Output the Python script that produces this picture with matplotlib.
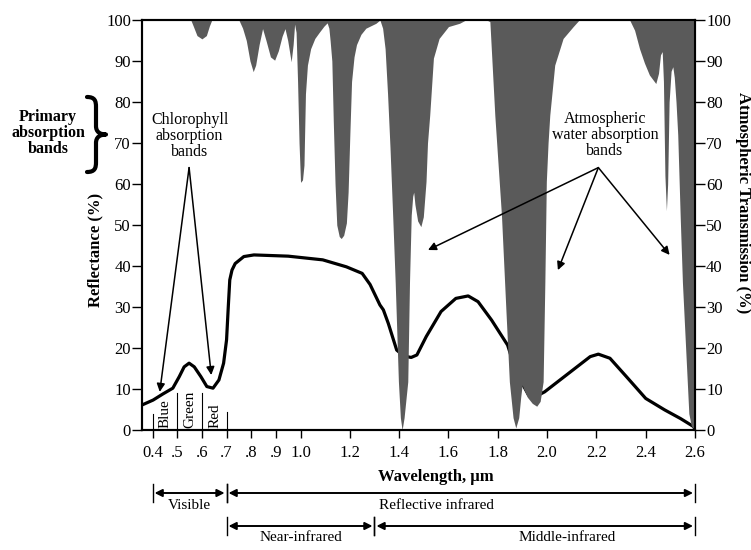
#!/usr/bin/env python
# -*- coding: utf-8 -*-

"""Spectral reflectance of green vegetation with the atmospheric
transmission (water absorption bands) drawn on top.
"""
import numpy
import matplotlib
import matplotlib.pyplot
import matplotlib.transforms
import matplotlib.path
import matplotlib.patches

matplotlib.use("Agg")
matplotlib.rcParams["font.family"] = ["Liberation Serif", "DejaVu Serif"]

# ----Data---------------------------------------------------------------------
# reflectance of the leaf, (wavelength in um, reflectance in %)
refl_wl = [0.357, 0.402, 0.442, 0.482, 0.508, 0.528, 0.548, 0.569, 0.596,
           0.62, 0.645, 0.669, 0.688, 0.70, 0.707, 0.713, 0.722, 0.735,
           0.77, 0.811, 0.95, 1.09, 1.186, 1.25, 1.282, 1.322, 1.336, 1.356,
           1.39, 1.42, 1.449, 1.472, 1.51, 1.57, 1.63, 1.68, 1.72, 1.775,
           1.84, 1.87, 1.906, 1.925, 1.958, 1.99, 2.104, 2.175, 2.208,
           2.255, 2.322, 2.40, 2.477, 2.541, 2.595, 2.60]
refl_pct = [6.1, 7.3, 8.8, 10.2, 13.0, 15.4, 16.3, 15.4, 13.0,
            10.6, 10.2, 12.2, 16.3, 22.0, 30.1, 36.6, 39.0, 40.6,
            42.3, 42.7, 42.4, 41.5, 39.8, 38.2, 35.5, 30.5, 29.3, 26.0,
            19.5, 18.0, 17.7, 18.3, 22.8, 28.9, 32.1, 32.7, 31.3, 26.8,
            20.7, 15.0, 10.6, 8.5, 8.3, 9.3, 14.6, 17.9, 18.5,
            17.5, 13.0, 7.7, 4.9, 2.8, 0.8, 0.0]

# atmospheric transmission, (wavelength in um, transmission in %)
trans_wl = [0.357, 0.555, 0.565, 0.58, 0.60, 0.618, 0.63, 0.64,
            0.75, 0.765, 0.78, 0.795, 0.808, 0.818, 0.832, 0.846, 0.86,
            0.878, 0.895, 0.91, 0.925, 0.937, 0.948, 0.962, 0.97, 0.976,
            0.982, 0.988, 0.994, 1.0, 1.008, 1.014, 1.02, 1.028, 1.041,
            1.058, 1.076, 1.095, 1.108, 1.115, 1.12, 1.127, 1.133, 1.14,
            1.147, 1.157, 1.165, 1.175, 1.186, 1.193, 1.2, 1.207, 1.217,
            1.227, 1.245, 1.265, 1.306, 1.322, 1.333, 1.343, 1.353, 1.363,
            1.374, 1.384, 1.397, 1.405, 1.412, 1.42, 1.435, 1.442, 1.449,
            1.455, 1.459, 1.464, 1.475, 1.488, 1.498, 1.509, 1.515, 1.524,
            1.539, 1.562, 1.60, 1.645, 1.67, 1.755, 1.768, 1.788, 1.815,
            1.834, 1.847, 1.862, 1.873, 1.885, 1.893, 1.899, 1.905, 1.92,
            1.94, 1.958, 1.972, 1.984, 1.991, 1.997, 2.004, 2.011, 2.031,
            2.065, 2.106, 2.13, 2.335, 2.355, 2.375, 2.395, 2.415, 2.441,
            2.452, 2.46, 2.467, 2.472, 2.478, 2.484, 2.489, 2.495, 2.503,
            2.51, 2.516, 2.523, 2.53, 2.54, 2.549, 2.562, 2.575, 2.585, 2.60]
trans_pct = [100, 100, 98.5, 96.2, 95.4, 96.2, 98.5, 100,
             100, 98, 95, 90, 87.4, 89, 94, 97.9, 95,
             91, 90.2, 92.5, 96, 97.9, 95, 89.8, 94, 99,
             97, 85, 70, 60.4, 61, 64.6, 82, 89, 93,
             95.5, 97, 98.5, 99.3, 98, 95, 90, 75, 60,
             50, 47.2, 46.7, 47.5, 50.5, 58, 72, 85, 91,
             94, 96.5, 98, 99.2, 100, 98, 93, 82, 68.8,
             52, 36, 11.8, 3, 0, 3, 11.8, 36, 52.4,
             57, 58, 55, 51, 49.6, 52, 60.6, 70, 76.8,
             90.7, 95.5, 98.4, 99.2, 100, 100, 99.6, 76.8, 52.4,
             28, 11.8, 3, 0.5, 3, 8, 11, 10, 8,
             6.5, 5.8, 7, 11.8, 36, 60.6, 70, 76.8, 89,
             95.5, 98.4, 100, 100, 97.5, 93, 89.5, 86.6, 84.5,
             87, 91.5, 92.3, 85, 62, 53.5, 60, 80, 87.5,
             88.6, 86, 80, 72, 52, 36, 20, 4, 1, 0]

xticks = [0.4, 0.5, 0.6, 0.7, 0.8, 0.9, 1.0, 1.2, 1.4, 1.6, 1.8, 2.0,
          2.2, 2.4, 2.6]
xticklabels = ["0.4", ".5", ".6", ".7", ".8", ".9", "1.0", "1.2", "1.4",
               "1.6", "1.8", "2.0", "2.2", "2.4", "2.6"]
yticks = list(range(0, 101, 10))

# visible colour bands: (edge wavelength, height of the divider line)
band_edges = [0.4, 0.5, 0.6, 0.7]
band_heights = [4.0, 9.0, 9.0, 4.5]
band_names = ["Blue", "Green", "Red"]
band_centres = [0.45, 0.55, 0.655]

# spectral regions under the axis
regions_row1 = [("Visible", 0.4, 0.7, 0.55), ("Reflective infrared", 0.7, 2.6, 1.55)]
regions_row2 = [("Near-infrared", 0.7, 1.3, 1.0), ("Middle-infrared", 1.3, 2.6, 2.08)]

# annotation arrows
chloro_apex = (0.548, 64)
chloro_tips = [(0.429, 9.3), (0.638, 13.4)]
water_apex = (2.208, 64)
water_tips = [(1.517, 43.9), (2.044, 39.0), (2.497, 42.7)]

# ----Figure-------------------------------------------------------------------
W, H = 751., 550.
fig = matplotlib.pyplot.figure(figsize=(W / 100, H / 100), dpi=100)
ax = fig.add_axes([142 / W, 1 - 430 / H, (695 - 142) / W, 410 / H])
ax.set_xlim(0.357, 2.6)
ax.set_ylim(0, 100)

ax.plot(refl_wl, refl_pct, color="black", lw=2.3, zorder=2,
        solid_capstyle="round", solid_joinstyle="round")
ax.fill_between(trans_wl, trans_pct, 100, color="#5a5a5a", lw=0, zorder=3)

for edge, h in zip(band_edges, band_heights):
    ax.plot([edge, edge], [0, h], color="black", lw=0.8, zorder=2)
for name, xc in zip(band_names, band_centres):
    ax.text(xc, 0.6, name, rotation=90, ha="center", va="bottom",
            fontsize=11)

# ----Axes styling-------------------------------------------------------------
ax.set_xticks(xticks)
ax.set_xticklabels(xticklabels, fontsize=12)
ax.set_yticks(yticks)
ax.tick_params(axis="y", labelsize=12, direction="out", length=7, width=1,
               pad=1)
ax.tick_params(axis="x", direction="out", length=6, width=1, pad=5)
for sp in ax.spines.values():
    sp.set_linewidth(1.5)

ax2 = ax.twinx()
ax2.set_ylim(0, 100)
ax2.set_yticks(yticks)
ax2.tick_params(axis="y", labelsize=12, direction="out", length=7, width=1,
                pad=1)
for sp in ax2.spines.values():
    sp.set_linewidth(1.5)

fig.text(95 / W, 1 - 250 / H, "Reflectance (%)", rotation=90,
         ha="center", va="center", fontsize=12, fontweight="bold")
fig.text(743 / W, 1 - 203 / H, "Atmospheric Transmission (%)", rotation=-90,
         ha="center", va="center", fontsize=12, fontweight="bold")

# ----Annotations--------------------------------------------------------------
ax.text(0.55, 71.7, "Chlorophyll\nabsorption\nbands", ha="center",
        va="center", fontsize=11.5, linespacing=1.0, zorder=6)
for tip in chloro_tips:
    ax.annotate("", xy=tip, xytext=chloro_apex, zorder=6,
                arrowprops=dict(arrowstyle="-|>", color="black", lw=1.1,
                                mutation_scale=12, shrinkA=0, shrinkB=0))

ax.text(2.235, 72, "Atmospheric\nwater absorption\nbands", ha="center",
        va="center", fontsize=11.5, linespacing=1.0, zorder=6)
for tip in water_tips:
    ax.annotate("", xy=tip, xytext=water_apex, zorder=6,
                arrowprops=dict(arrowstyle="-|>", color="black", lw=1.1,
                                mutation_scale=12, shrinkA=0, shrinkB=0))

fig.text(48 / W, 1 - 133 / H, "Primary\nabsorption\nbands", ha="center",
         va="center", fontsize=11.5, fontweight="bold", linespacing=1.0)

# curly brace next to "Primary absorption bands", in figure pixels
brace_px = [(87, 97), (95, 97), (96, 101), (96, 107),
            (96, 126),
            (96, 132), (100, 134.5), (106, 134.5),
            (100, 134.5), (96, 137), (96, 143),
            (96, 162),
            (96, 168), (95, 172), (87, 172)]
P = matplotlib.path.Path
brace_codes = [P.MOVETO, P.CURVE4, P.CURVE4, P.CURVE4, P.LINETO,
               P.CURVE4, P.CURVE4, P.CURVE4, P.CURVE4, P.CURVE4, P.CURVE4,
               P.LINETO, P.CURVE4, P.CURVE4, P.CURVE4]
brace_verts = [(x / W, 1 - y / H) for x, y in brace_px]
fig.patches.append(matplotlib.patches.PathPatch(
    P(brace_verts, brace_codes), transform=fig.transFigure, fill=False,
    lw=3.0, edgecolor="black", capstyle="round", joinstyle="round"))

# ----Spectral regions below the axis------------------------------------------
trans = matplotlib.transforms.blended_transform_factory(ax.transData,
                                                        fig.transFigure)
fig.text(1.55, 1 - 477 / H, "Wavelength, \u03bcm", transform=trans,
         ha="center", va="center", fontsize=12, fontweight="bold")


def draw_regions(regions, y_arrow, y_text):
    for label, x0, x1, xc in regions:
        ax.annotate("", xy=(x0 + 0.008, y_arrow), xytext=(x1 - 0.008, y_arrow),
                    xycoords=trans, textcoords=trans, annotation_clip=False,
                    arrowprops=dict(arrowstyle="<|-|>", color="black", lw=1.4,
                                    mutation_scale=11, shrinkA=0, shrinkB=0))
        for xe in (x0, x1):
            ax.plot([xe, xe], [y_arrow - 9 / H, y_arrow + 9 / H],
                    transform=trans, color="black", lw=1.0, clip_on=False)
        fig.text(xc, y_text, label, transform=trans, ha="center", va="top",
                 fontsize=11)


draw_regions(regions_row1, 1 - 493 / H, 1 - 499 / H)
draw_regions(regions_row2, 1 - 526 / H, 1 - 531 / H)

fig.savefig("out.png", dpi=100)
matplotlib.pyplot.close(fig)
